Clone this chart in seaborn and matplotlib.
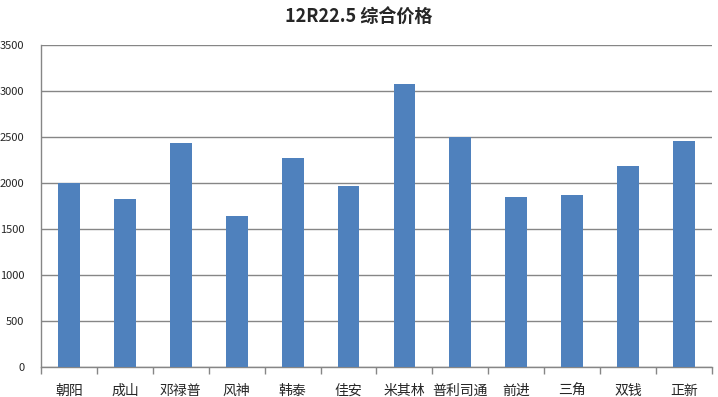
import matplotlib
matplotlib.use("Agg")
import matplotlib.pyplot as plt
import numpy as np
import pandas as pd
import seaborn as sns

brands = ["朝阳", "成山", "邓禄普", "风神", "韩泰", "佳安",
          "米其林", "普利司通", "前进", "三角", "双钱", "正新"]
prices = [2000, 1830, 2440, 1640, 2270, 1970,
          3080, 2500, 1850, 1870, 2190, 2460]
y_ticks = [0, 500, 1000, 1500, 2000, 2500, 3000, 3500]

df = pd.DataFrame({"brand": brands, "price": prices})

sns.set_theme(style="white")
plt.rcParams["font.family"] = ["Noto Sans CJK SC", "DejaVu Sans"]

fig = plt.figure(figsize=(7.18, 3.97), dpi=100)
ax = fig.add_axes([41 / 718, 1 - 367 / 397, (712 - 41) / 718, (367 - 45) / 397])

sns.barplot(data=df, x="brand", y="price", color="#4F81BD", saturation=1,
            width=0.39, linewidth=0, edgecolor="none", ax=ax, zorder=3)

ax.set_ylim(0, 3500)
ax.set_xlim(-0.5, len(brands) - 0.5)
ax.set_yticks(y_ticks)
ax.set_yticklabels([str(v) for v in y_ticks], fontsize=8)
ax.yaxis.grid(True, color="#868686", linewidth=1, zorder=0)
ax.set_axisbelow(True)

# category boundary ticks below the axis
ax.set_xticks(np.arange(len(brands) + 1) - 0.5, minor=True)
ax.tick_params(axis="x", which="minor", bottom=True, length=5, color="#868686", width=1)
ax.tick_params(axis="x", which="major", bottom=False, labelsize=10, pad=6)
ax.tick_params(axis="y", left=False, pad=6)

for side in ["top", "right"]:
    ax.spines[side].set_visible(False)
for side in ["left", "bottom"]:
    ax.spines[side].set_color("#868686")
    ax.spines[side].set_linewidth(1)

ax.set_xlabel("")
ax.set_ylabel("")

fig.text(0.5, 1 - 17 / 397, "12R22.5 综合价格", ha="center", va="center",
         fontsize=13, fontweight="bold")

fig.savefig("out.png", dpi=100, facecolor="white")
plt.close(fig)
